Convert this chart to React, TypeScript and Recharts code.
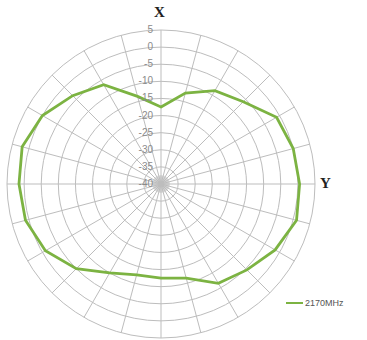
import React from "react";
import { RadarChart, Radar, PolarGrid, PolarAngleAxis, PolarRadiusAxis, Legend } from "recharts";

const angles: number[] = [0, 15, 30, 45, 60, 75, 90, 105, 120, 135, 150, 165, 180, 195, 210, 225, 240, 255, 270, 285, 300, 315, 330, 345];
const gain2170: number[] = [-17.5, -12.5, -8.5, -6, -1, 0, 0.5, 1, -1.5, -4.5, -6.5, -11.5, -12.5, -12.5, -10, -5, -1, 1, 1.5, 2, 0, -3.5, -6.5, -13.5];
const radiusTicks: number[] = [-40, -35, -30, -25, -20, -15, -10, -5, 0, 5];
const seriesName = "2170MHz";

const data = angles.map((a, i) => ({ angle: a, v: gain2170[i] }));

const RadiusTick = (props: any) => {
  const { x, y, payload } = props;
  return (
    <text x={x - 8} y={y + 3} textAnchor="end" fontSize={10} fill="#8a8a8a" fontFamily="Liberation Sans, Arial, sans-serif">
      {payload.value}
    </text>
  );
};

const LegendContent = () => (
  <div style={{ display: "flex", alignItems: "center", fontFamily: "Liberation Sans, Arial, sans-serif", fontSize: 9, color: "#555" }}>
    <div style={{ width: 17, height: 2, background: "#7cb342", marginRight: 2 }} />
    <span>{seriesName}</span>
  </div>
);

export default function App() {
  return (
    <div style={{ position: "absolute", left: 0, top: 0, width: 367, height: 340, background: "#fff" }}>
      <div style={{ position: "absolute", left: 152, top: 175, width: 18, height: 18, borderRadius: 9, background: "radial-gradient(circle, #c8c8c8 0%, #d8d8d8 60%, rgba(255,255,255,0) 100%)" }} />
      <div style={{ position: "absolute", left: 0, top: 0 }}>
        <RadarChart width={367} height={340} data={data} cx={161} cy={184} outerRadius={154} margin={{ top: 0, right: 0, bottom: 0, left: 0 }}>
          <PolarGrid gridType="circle" stroke="#bdbdbd" strokeWidth={1} />
          <PolarAngleAxis dataKey="angle" tick={false} axisLine={false} />
          <PolarRadiusAxis angle={90} domain={[-40, 5]} ticks={radiusTicks} tick={<RadiusTick />} axisLine={false} tickLine={false} />
          <Radar name={seriesName} dataKey="v" stroke="#7cb342" strokeWidth={2.8} fill="none" fillOpacity={0} dot={false} isAnimationActive={false} />
          <Legend content={<LegendContent />} wrapperStyle={{ position: "absolute", left: 286, top: 298, width: 80 }} />
        </RadarChart>
      </div>
      <div style={{ position: "absolute", left: 154, top: 4, fontFamily: "Liberation Serif, serif", fontWeight: "bold", fontSize: 15, color: "#222" }}>X</div>
      <div style={{ position: "absolute", left: 320, top: 175, fontFamily: "Liberation Serif, serif", fontWeight: "bold", fontSize: 15, color: "#222" }}>Y</div>
    </div>
  );
}
